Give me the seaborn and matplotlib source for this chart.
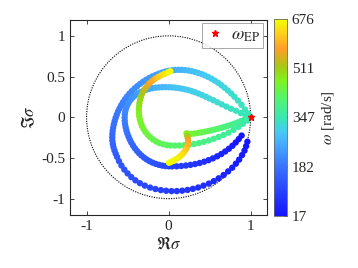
import numpy as np
import pandas as pd
import matplotlib
matplotlib.use("Agg")
import matplotlib.pyplot as plt
from matplotlib.colors import LinearSegmentedColormap, Normalize
from matplotlib.cm import ScalarMappable
from matplotlib.patches import Circle
import seaborn as sns

# eigenvalue loci: (Re sigma, Im sigma) and omega [rad/s]
# outer loop (low omega, reaches the EP at (1,0))
outer_pts = [(0.96,-0.30),(0.945,-0.355),(0.925,-0.41),(0.895,-0.465),(0.86,-0.52),(0.82,-0.57),
             (0.775,-0.62),(0.725,-0.665),(0.67,-0.71),(0.61,-0.75),(0.55,-0.785),(0.49,-0.815),
             (0.425,-0.84),(0.36,-0.863),(0.295,-0.88),(0.23,-0.893),(0.165,-0.902),(0.10,-0.907),
             (0.035,-0.907),(-0.03,-0.903),(-0.095,-0.895),(-0.16,-0.882),(-0.225,-0.864),(-0.29,-0.84),
             (-0.35,-0.81),(-0.405,-0.775),(-0.455,-0.735),(-0.50,-0.69),(-0.54,-0.643),(-0.575,-0.593),
             (-0.605,-0.54),(-0.628,-0.488),
             (-0.645,-0.448),(-0.66,-0.408),(-0.672,-0.368),(-0.68,-0.328),(-0.685,-0.288),(-0.687,-0.248),
             (-0.686,-0.208),(-0.682,-0.168),(-0.676,-0.128),(-0.668,-0.088),(-0.658,-0.048),(-0.646,-0.008),
             (-0.632,0.032),(-0.616,0.072),(-0.598,0.11),(-0.578,0.148),(-0.556,0.185),(-0.532,0.221),
             (-0.506,0.256),(-0.478,0.29),(-0.448,0.322),(-0.416,0.353),(-0.383,0.382),(-0.348,0.41),
             (-0.312,0.436),(-0.275,0.46),(-0.237,0.482),(-0.198,0.502),(-0.158,0.52),(-0.118,0.536),
             (-0.078,0.55),(-0.038,0.562),(0.002,0.571),(0.042,0.577),(0.082,0.581),(0.122,0.583),
             (0.162,0.582),(0.202,0.579),(0.242,0.574),(0.282,0.566),(0.322,0.556),(0.362,0.544),
             (0.402,0.53),(0.442,0.514),(0.482,0.495),(0.522,0.474),(0.562,0.45),(0.602,0.424),
             (0.642,0.395),(0.682,0.363),(0.722,0.329),(0.762,0.292),(0.802,0.252),(0.845,0.205),
             (0.888,0.152),(0.93,0.095),(0.968,0.045),(1.0,0.0)]
outer_w = [17,21,25,29,33,37,41,45,49,53,57,61,65,69,73,77,81,85,89,93,97,101,105,109,113,117,121,125,129,133,137,141,
           145,148,152,155,159,162,166,169,172,176,179,183,186,190,193,196,200,203,207,210,214,217,220,224,227,
           231,234,238,241,244,248,251,255,258,262,265,
           269,273,277,280,284,288,292,295,299,303,307,310,314,318,321,325,329,333,336,340,344,347]

# second loop
inner_pts = [(0.89,-0.225),(0.855,-0.268),(0.818,-0.31),(0.778,-0.35),(0.735,-0.387),(0.69,-0.42),
             (0.642,-0.452),(0.592,-0.48),(0.54,-0.505),(0.487,-0.527),(0.433,-0.546),(0.378,-0.562),
             (0.322,-0.575),(0.266,-0.585),(0.21,-0.593),(0.154,-0.599),(0.098,-0.603),(0.042,-0.604),
             (0.002,-0.603),(-0.038,-0.6),(-0.078,-0.594),(-0.118,-0.585),(-0.157,-0.573),(-0.195,-0.558),
             (-0.232,-0.54),(-0.267,-0.519),(-0.3,-0.496),(-0.331,-0.47),(-0.36,-0.442),(-0.387,-0.412),
             (-0.412,-0.38),(-0.435,-0.346),(-0.455,-0.311),(-0.473,-0.275),(-0.489,-0.238),(-0.503,-0.2),
             (-0.515,-0.162),(-0.524,-0.123),(-0.531,-0.084),(-0.535,-0.045),(-0.536,-0.005),(-0.534,0.035),
             (-0.528,0.074),(-0.518,0.112),(-0.504,0.148),(-0.486,0.182),(-0.464,0.213),(-0.439,0.241),
             (-0.411,0.266),(-0.38,0.288),(-0.347,0.307),(-0.312,0.323),(-0.276,0.337),(-0.238,0.348),
             (-0.199,0.357),(-0.159,0.363),(-0.119,0.367),(-0.079,0.369),(-0.039,0.37),(0.001,0.369),
             (0.041,0.367),(0.081,0.363),
             (0.121,0.358),(0.161,0.351),(0.201,0.343),(0.241,0.333),(0.281,0.321),(0.322,0.307),
             (0.364,0.291),(0.407,0.273),(0.451,0.253),(0.497,0.231),(0.545,0.208),(0.595,0.184),
             (0.648,0.158),(0.703,0.131),(0.76,0.105),(0.82,0.08),(0.88,0.05),(0.94,0.022),(1.0,0.0)]
inner_w = [17,22,27,32,37,42,47,52,57,62,67,72,77,82,87,92,97,102,
           106,110,114,119,123,127,131,136,140,144,148,153,157,161,165,170,174,178,182,187,191,195,199,204,
           208,212,216,221,225,229,233,238,242,246,250,255,259,263,267,272,276,280,284,289,
           292,295,298,301,304,307,310,313,316,319,322,325,328,331,334,337,340,344,347]

# branch leaving the EP towards the hook (ends near (0,-0.56))
hook_pts = [(0.96,-0.015),(0.92,-0.032),(0.88,-0.048),(0.84,-0.064),(0.80,-0.079),(0.76,-0.093),
            (0.72,-0.106),(0.68,-0.118),(0.64,-0.13),(0.60,-0.141),(0.56,-0.151),(0.52,-0.161),
            (0.48,-0.17),(0.44,-0.178),(0.40,-0.186),(0.36,-0.193),(0.32,-0.199),(0.28,-0.204),
            (0.245,-0.205),(0.218,-0.198),
            (0.225,-0.225),(0.234,-0.255),(0.238,-0.287),(0.236,-0.319),(0.229,-0.35),(0.218,-0.379),
            (0.203,-0.407),(0.185,-0.433),(0.164,-0.457),(0.141,-0.479),(0.116,-0.499),(0.089,-0.517),
            (0.061,-0.533),(0.033,-0.547),(0.005,-0.559)]
hook_w = [352,358,364,370,376,382,388,394,400,406,412,418,424,430,436,442,448,454,462,472,
          500,540,570,590,600,610,620,630,640,648,655,662,668,672,676]

# branch leaving the EP around the left side (ends near (0,0.57))
loop_pts = [(0.96,-0.04),(0.905,-0.08),(0.85,-0.118),(0.79,-0.155),(0.73,-0.19),(0.67,-0.218),
            (0.61,-0.242),(0.55,-0.265),(0.49,-0.285),(0.43,-0.302),(0.37,-0.317),(0.31,-0.329),
            (0.25,-0.338),(0.19,-0.344),(0.13,-0.347),(0.075,-0.348),(0.025,-0.346),
            (-0.02,-0.342),(-0.065,-0.333),(-0.11,-0.318),(-0.152,-0.298),(-0.19,-0.273),(-0.225,-0.245),
            (-0.256,-0.214),(-0.283,-0.18),(-0.306,-0.144),(-0.325,-0.106),(-0.34,-0.067),(-0.351,-0.027),
            (-0.358,0.013),(-0.362,0.053),(-0.363,0.093),(-0.361,0.133),(-0.356,0.173),(-0.348,0.213),
            (-0.337,0.252),(-0.322,0.29),(-0.304,0.326),(-0.282,0.36),(-0.257,0.392),(-0.229,0.422),
            (-0.198,0.449),(-0.164,0.473),(-0.128,0.495),(-0.09,0.515),(-0.05,0.533),(-0.01,0.55),(0.02,0.565)]
loop_w = [352,356,360,364,368,372,376,380,384,388,392,396,400,404,408,412,416,
          420,424,428,432,436,440,444,448,452,456,460,464,469,474,479,485,491,498,506,515,526,540,
          556,572,588,604,620,635,650,664,676]

ep_re = [1.0]
ep_im = [0.0]

cbar_ticks = [17, 182, 347, 511, 676]
w_min, w_max = 17, 676

# colormap approximated from the colorbar
cmap_colors = [(0.00, (0.08, 0.08, 1.00)),
               (0.12, (0.15, 0.25, 1.00)),
               (0.25, (0.22, 0.45, 1.00)),
               (0.36, (0.27, 0.66, 1.00)),
               (0.43, (0.27, 0.80, 0.95)),
               (0.50, (0.22, 0.91, 0.70)),
               (0.60, (0.33, 0.96, 0.42)),
               (0.69, (0.50, 0.95, 0.12)),
               (0.76, (0.66, 0.78, 0.08)),
               (0.85, (1.00, 0.62, 0.15)),
               (0.93, (1.00, 0.82, 0.10)),
               (1.00, (0.95, 1.00, 0.00))]
cmap = LinearSegmentedColormap.from_list("wcmap", cmap_colors)

frames = []
for name, pts, w in [("outer", outer_pts, outer_w), ("inner", inner_pts, inner_w),
                     ("hook", hook_pts, hook_w), ("loop", loop_pts, loop_w)]:
    d = pd.DataFrame(pts, columns=["re", "im"])
    d["w"] = w
    d["branch"] = name
    frames.append(d)
df = pd.concat(frames, ignore_index=True).sort_values("w", kind="stable")

sns.set_style("ticks")
plt.rcParams["font.family"] = ["Liberation Serif", "DejaVu Serif"]
plt.rcParams["mathtext.fontset"] = "stix"

fig = plt.figure(figsize=(3.58, 2.68), dpi=100)
ax = fig.add_axes([0.196, 0.198, 0.550, 0.729])
cax = fig.add_axes([0.765, 0.194, 0.0363, 0.735])

ax.add_patch(Circle((0, 0), 1, fill=False, color="black", lw=0.8, ls=(0, (1, 1.2))))

sns.scatterplot(data=df, x="re", y="im", hue="w", palette=cmap, hue_norm=(w_min, w_max),
                s=21, linewidth=0, legend=False, ax=ax, zorder=3)
ax.plot(ep_re, ep_im, "*", color="red", ms=5, label=r"$\omega_{\mathrm{EP}}$", zorder=5)

ax.set_xlim(-1.2, 1.2)
ax.set_ylim(-1.2, 1.2)
ax.set_xticks([-1, 0, 1])
ax.set_yticks([-1, -0.5, 0, 0.5, 1])
ax.set_yticklabels(["-1", "-0.5", "0", "0.5", "1"])
ax.set_xticklabels(["-1", "0", "1"])
ax.tick_params(direction="in", length=3, width=0.6, labelsize=11, top=True, right=True, colors="0.15")
for s in ax.spines.values():
    s.set_color("0.15")
    s.set_linewidth(0.8)
ax.set_xlabel(r"$\Re\sigma$", fontsize=12, labelpad=2)
ax.set_ylabel(r"$\Im\sigma$", fontsize=12, labelpad=2)

leg = ax.legend(loc="upper right", fontsize=13, frameon=True, fancybox=False, edgecolor="0.5",
                handlelength=1.0, handletextpad=0.4, borderpad=0.2, borderaxespad=0.2)
leg.get_frame().set_linewidth(0.6)

cb = fig.colorbar(ScalarMappable(norm=Normalize(w_min, w_max), cmap=cmap), cax=cax, ticks=cbar_ticks)
cb.ax.tick_params(direction="in", length=2, width=0.6, labelsize=11, colors="0.15")
cb.outline.set_edgecolor("0.4")
cb.outline.set_linewidth(0.6)
cb.set_label(r"$\omega$ [rad/s]", fontsize=11, labelpad=4)

fig.savefig("out.png", dpi=100)
